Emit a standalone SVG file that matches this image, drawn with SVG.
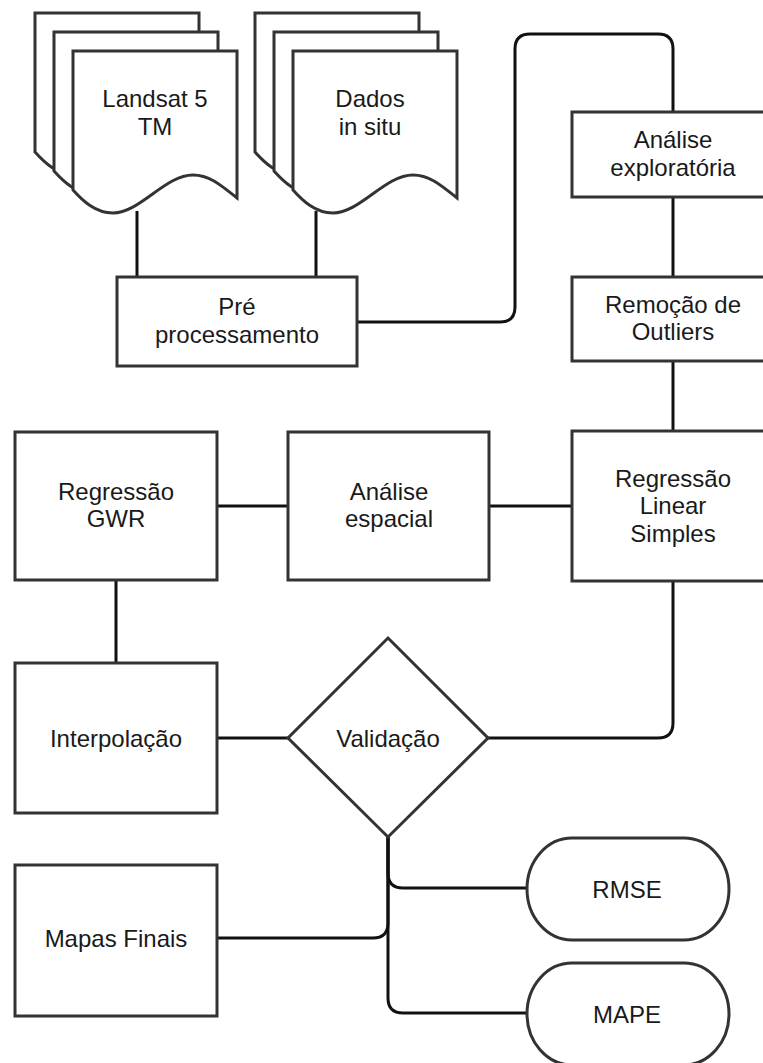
<svg xmlns="http://www.w3.org/2000/svg" xmlns:xlink="http://www.w3.org/1999/xlink" width="763" height="1063" viewBox="0 0 763 1063">
<style>
.shape{fill:#fff;stroke:#333;stroke-width:3}
.conn{fill:none;stroke:#111;stroke-width:3}
text{font-family:"Liberation Sans",Arial,sans-serif;font-size:24px;fill:#1a1a1a;text-anchor:middle}
</style>
<defs>
<path id="doc" d="M0,0 H164 V147 C149,135 137,124 120,124 C92,124 67,162 40,162 C22,162 9,149 0,139 Z"/>
</defs>
<rect width="763" height="1063" fill="#fff"/>
<g id="connectors">
<path class="conn" d="M137,211 V277"/>
<path class="conn" d="M316,211 V277"/>
<path class="conn" d="M357,322 H500 Q515,322 515,307 V49 Q515,34 530,34 H658 Q673,34 673,49 V112"/>
<path class="conn" d="M673,197 V277"/>
<path class="conn" d="M673,361 V431"/>
<path class="conn" d="M572,506 H489"/>
<path class="conn" d="M288,506 H217"/>
<path class="conn" d="M116,580 V663"/>
<path class="conn" d="M217,738 H288"/>
<path class="conn" d="M488,738 H658 Q673,738 673,723 V581"/>
<path class="conn" d="M388,837 V873 Q388,888 403,888 H527"/>
<path class="conn" d="M388,837 V923 Q388,938 373,938 H217"/>
<path class="conn" d="M388,837 V998 Q388,1013 403,1013 H527"/>
</g>
<g id="landsat">
<use xlink:href="#doc" href="#doc" x="35" y="13" class="shape"/>
<use xlink:href="#doc" href="#doc" x="54" y="32" class="shape"/>
<use xlink:href="#doc" href="#doc" x="73" y="51" class="shape"/>
<text x="155" y="107">Landsat 5</text>
<text x="155" y="135">TM</text>
</g>
<g id="dados">
<use xlink:href="#doc" href="#doc" x="255" y="13" class="shape"/>
<use xlink:href="#doc" href="#doc" x="274" y="32" class="shape"/>
<use xlink:href="#doc" href="#doc" x="293" y="51" class="shape"/>
<text x="370" y="107">Dados</text>
<text x="370" y="135">in situ</text>
</g>
<g id="pre">
<rect class="shape" x="117" y="277" width="240" height="89"/>
<text x="237" y="315">Pré</text>
<text x="237" y="343">processamento</text>
</g>
<g id="analise-exploratoria">
<rect class="shape" x="572" y="112" width="202" height="85"/>
<text x="673" y="148">Análise</text>
<text x="673" y="176">exploratória</text>
</g>
<g id="remocao">
<rect class="shape" x="572" y="277" width="202" height="84"/>
<text x="673" y="313">Remoção de</text>
<text x="673" y="340">Outliers</text>
</g>
<g id="gwr">
<rect class="shape" x="15" y="432" width="202" height="148"/>
<text x="116" y="500">Regressão</text>
<text x="116" y="527">GWR</text>
</g>
<g id="analise-espacial">
<rect class="shape" x="288" y="432" width="201" height="148"/>
<text x="389" y="500">Análise</text>
<text x="389" y="527">espacial</text>
</g>
<g id="linear">
<rect class="shape" x="572" y="431" width="202" height="150"/>
<text x="673" y="487">Regressão</text>
<text x="673" y="514">Linear</text>
<text x="673" y="542">Simples</text>
</g>
<g id="interpolacao">
<rect class="shape" x="15" y="663" width="202" height="150"/>
<text x="116" y="747">Interpolação</text>
</g>
<g id="validacao">
<polygon class="shape" points="388,638 488,738 388,837 288,738"/>
<text x="388" y="747">Validação</text>
</g>
<g id="mapas">
<rect class="shape" x="15" y="865" width="202" height="151"/>
<text x="116" y="947">Mapas Finais</text>
</g>
<g id="rmse">
<rect class="shape" x="527" y="838" width="202" height="102" rx="45" ry="51"/>
<text x="627" y="898">RMSE</text>
</g>
<g id="mape">
<rect class="shape" x="527" y="963" width="202" height="102" rx="45" ry="51"/>
<text x="627" y="1023">MAPE</text>
</g>
</svg>
